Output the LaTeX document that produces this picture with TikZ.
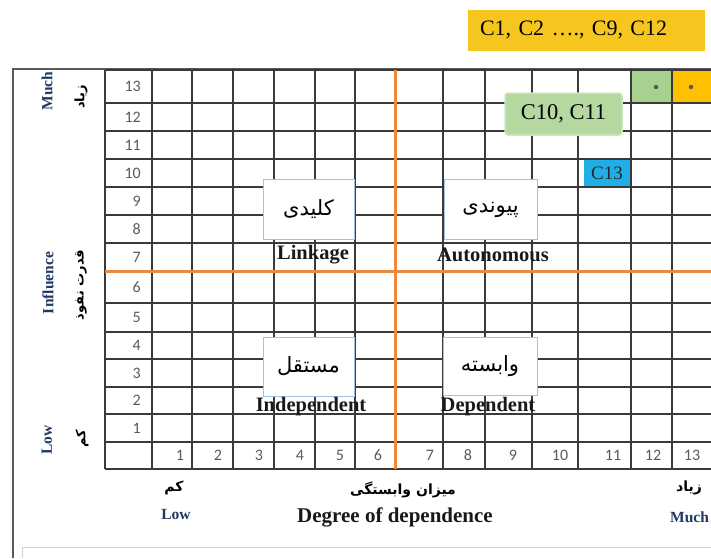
\documentclass[tikz,border=0pt]{standalone}
\usepackage{fontspec}
\setmainfont{Liberation Serif}
\newfontfamily\numfont{Carlito}
\newfontfamily\farsi[Script=Arabic]{DejaVu Sans}
\TeXXeTstate=1
\definecolor{gridgray}{HTML}{3A3A3A}
\definecolor{numgray}{HTML}{5A5A5A}
\definecolor{axisorange}{HTML}{F0883A}
\definecolor{cellgreen}{HTML}{A9D18E}
\definecolor{lightgreen}{HTML}{B4D8A0}
\definecolor{cellgold}{HTML}{FFC000}
\definecolor{boxgold}{HTML}{F7C61E}
\definecolor{cellblue}{HTML}{1FAEE6}
\definecolor{boxblue}{HTML}{9DC3E6}
\definecolor{navy}{HTML}{1F3864}

\begin{document}
\begin{tikzpicture}[x=1pt,y=-1pt]
            \tikzset{gridline/.style={draw=gridgray,line width=1.3pt},
                axisline/.style={draw=axisorange,line width=3pt},
                ynum/.style={anchor=east,inner sep=0pt,text=numgray,font=\numfont\fontsize{16}{18}\selectfont},
                xnum/.style={inner sep=0pt,text=numgray,font=\numfont\fontsize{16}{18}\selectfont},
                quad/.style={draw=boxblue,line width=1pt,fill=white,minimum width=#1,minimum height=60pt,inner sep=0pt,font=\farsi\fontsize{21}{24}\selectfont},
                quadname/.style={inner sep=0pt,text=black!90,font=\bfseries\fontsize{20.5}{24}\selectfont},
                sidelabel/.style={rotate=90,inner sep=0pt,text=navy,font=\bfseries\fontsize{15.5}{18}\selectfont},
                sidefa/.style={rotate=90,inner sep=0pt,font=\farsi\bfseries\fontsize{13}{16}\selectfont},
                botfa/.style={inner sep=0pt,font=\farsi\bfseries\fontsize{14}{17}\selectfont},
                botlabel/.style={inner sep=0pt,text=navy,font=\bfseries\fontsize{15.5}{18}\selectfont}};
            \useasboundingbox (0,0) rectangle (711,558);
            
            \draw[draw=numgray,line width=1.5pt] (13,558)--(13,69)--(711,69);
            \draw[draw=black!18,line width=1pt] (22,558)--(22,547)--(711,547);
            
            \fill[cellgreen] (631,70) rectangle (672,103);
            \fill[cellgold] (672,70) rectangle (711,103);
            
            \foreach \x in {105,152,192,233,274,315,355,395,443,485,532,578,631,672}
                \draw[gridline] (\x,70)--(\x,469);
            \foreach \y in {70,103,131,159,187,215,243,271,303,332,359,387,414,442,469}
                \draw[gridline] (105,\y)--(711,\y);
            
            \draw[axisline] (105,271)--(711,271);
            \draw[axisline] (395,70)--(395,469);
            
            \foreach \n/\y in {13/86.5,12/117,11/145,10/173,9/201,8/229,7/257,6/287,5/317.5,4/345.5,3/373,2/400.5,1/428}
                \node[ynum] (y\n) at (141,\y) {\n};
            \foreach \n/\x in {1/180,2/218,3/259,4/300,5/340,6/378,7/430,8/468,9/513,10/560,11/613,12/653,13/692}
                \node[xnum] (x\n) at (\x,455) {\n};
            
            \node[circle,fill=black!65,inner sep=0pt,minimum size=4.5pt] (dot12) at (656,87) {};
            \node[circle,fill=black!65,inner sep=0pt,minimum size=4.5pt] (dot13) at (691,87) {};
            
            \node[fill=boxgold,minimum width=237pt,minimum height=41pt,inner xsep=12pt,text width=213pt,align=left,font=\fontsize{22}{26}\selectfont] (c1) at (586.5,30) {C1, C2 \ldots., C9, C12};
            \node[fill=lightgreen,draw=cellgreen!55,line width=1.5pt,rounded corners=3pt,minimum width=117pt,minimum height=42pt,inner sep=0pt,font=\fontsize{22.5}{26}\selectfont] (c10) at (563.5,114) {C10, C11};
            \node[fill=cellblue,minimum width=46pt,minimum height=26pt,inner sep=0pt,text=black!85,font=\fontsize{19}{22}\selectfont] (c13) at (607,173) {C13};
            
            \node[quad=91pt] (linkbox) at (308.5,209.5) {\beginR کلیدی\endR};
            \node[quad=93pt] (autobox) at (490.5,209.5) {\beginR پیوندی\endR};
            \node[quad=91pt,minimum height=59pt] (indbox) at (308.5,366.5) {\beginR مستقل\endR};
            \node[quad=94pt,minimum height=58pt] (depbox) at (490,366) {\beginR وابسته\endR};
            
            \node[quadname] (linkage) at (313,255) {Linkage};
            \node[quadname] (autonomous) at (493,255) {Autonomous};
            \node[quadname] (independent) at (311,407) {Independent};
            \node[quadname] (dependent) at (488,407) {Dependent};
            
            \node[sidelabel] (much) at (47,91) {Much};
            \node[sidefa] (ziad) at (81,97) {\beginR زیاد\endR};
            \node[sidelabel] (influence) at (48,283) {Influence};
            \node[sidefa] (nofuz) at (81,285) {\beginR قدرت نفوذ\endR};
            \node[sidelabel] (low) at (47,440) {Low};
            \node[sidefa] (kam) at (82,439) {\beginR کم\endR};
            
            \node[botfa] (kamx) at (174,488) {\beginR کم\endR};
            \node[botlabel] (lowx) at (176,514) {Low};
            \node[botfa] (mizan) at (403,490) {\beginR میزان وابستگی\endR};
            \node[inner sep=0pt,text=black!90,font=\bfseries\fontsize{21}{24}\selectfont] (degree) at (395,517) {Degree of dependence};
            \node[botfa,anchor=west] (ziadx) at (676,488) {\beginR زیاد\endR};
            \node[botlabel,anchor=west] (muchx) at (670,517) {Much};
        \end{tikzpicture}
\end{document}
